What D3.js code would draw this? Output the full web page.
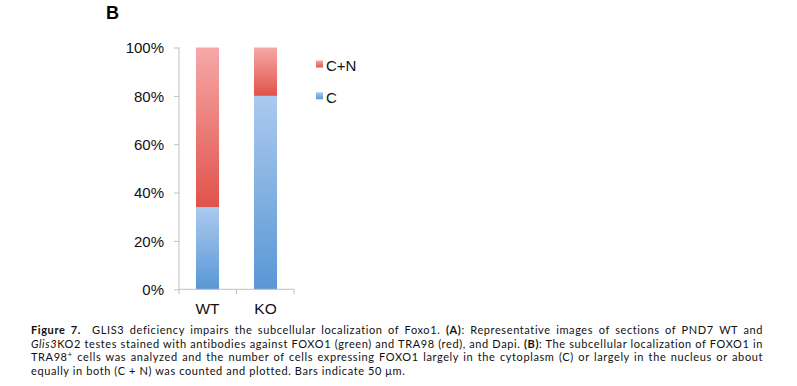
<!DOCTYPE html>
<html><head><meta charset="utf-8">
<script src="https://cdn.jsdelivr.net/npm/d3@7"></script>
<style>
body{margin:0;background:#fff;width:797px;height:386px;overflow:hidden;position:relative;}
svg{position:absolute;left:0;top:0;}
#cap{position:absolute;left:31px;top:323px;width:732px;font-family:Lato,"Open Sans",sans-serif;font-size:11px;letter-spacing:0.6px;line-height:13.5px;color:#111;}
#cap div{text-align:justify;text-align-last:justify;white-space:nowrap;height:13.5px;}
#cap div.last{text-align-last:left;}
</style></head><body>
<div id="cap"></div>
<script>
const categories = ["WT", "KO"];
const seriesNames = ["C", "C+N"];
const valuesC = [34, 80];
const valuesCN = [66, 20];
const yTicks = [0, 20, 40, 60, 80, 100];

const W = 797, H = 386;
const svg = d3.select("body").append("svg").attr("width", W).attr("height", H);
const defs = svg.append("defs");
function grad(id, top, bottom){
  const g = defs.append("linearGradient").attr("id", id).attr("x1",0).attr("y1",0).attr("x2",0).attr("y2",1);
  g.append("stop").attr("offset","0%").attr("stop-color",top);
  g.append("stop").attr("offset","100%").attr("stop-color",bottom);
}
grad("gC", "#abcaee", "#5a97d6");
grad("gCN", "#f6a8a8", "#e0534b");

const y = d3.scaleLinear().domain([0,100]).range([289.3, 47.5]);
const x = d3.scaleBand().domain(categories).range([179, 294]).paddingInner(0.603).paddingOuter(0.293);

svg.append("text").attr("x",106).attr("y",19).attr("font-family","Liberation Sans, Arial, sans-serif")
  .attr("font-weight","bold").attr("font-size",18).text("B");

const data = categories.map((c,i)=>({cat:c, C:valuesC[i], CN:valuesCN[i]}));
const stack = d3.stack().keys(["C","CN"])(data);
const fills = {C:"url(#gC)", CN:"url(#gCN)"};
svg.append("g").selectAll("g").data(stack).join("g").attr("fill", d=>fills[d.key])
  .selectAll("rect").data(d=>d).join("rect")
  .attr("x", d=>x(d.data.cat)).attr("width", x.bandwidth())
  .attr("y", d=>y(d[1])).attr("height", d=>y(d[0])-y(d[1]));

const axisColor = "#c0c0c0";
const yAxis = svg.append("g").attr("transform","translate(179,0)")
  .call(d3.axisLeft(y).tickValues(yTicks).tickFormat(d=>d+"%").tickSize(5).tickPadding(10));
yAxis.select(".domain").attr("stroke",axisColor).attr("d","M0,47.5V289.3");
yAxis.selectAll(".tick line").attr("stroke",axisColor);
yAxis.selectAll(".tick text").attr("font-family","Liberation Sans, Arial, sans-serif").attr("font-size",15).attr("fill","#111").attr("dy","0.36em");

const xAxis = svg.append("g").attr("transform","translate(0,289.3)")
  .call(d3.axisBottom(x).tickSize(0).tickPadding(14));
xAxis.select(".domain").attr("stroke",axisColor).attr("d","M179,0H294");
xAxis.selectAll(".tick text").attr("font-family","Liberation Sans, Arial, sans-serif").attr("font-size",15.5).attr("fill","#111");
const sepX = [179, (x("WT")+x.bandwidth()+x("KO"))/2, 294];
xAxis.selectAll("line.sep").data(sepX).join("line").attr("class","sep")
  .attr("x1",d=>d).attr("x2",d=>d).attr("y1",0).attr("y2",5).attr("stroke",axisColor);

const legend = [{name:"C+N", fill:"url(#gCN)", y:60.5},{name:"C", fill:"url(#gC)", y:92.3}];
const lg = svg.append("g");
lg.selectAll("rect").data(legend).join("rect").attr("x",316).attr("y",d=>d.y).attr("width",7).attr("height",7).attr("fill",d=>d.fill);
lg.selectAll("text").data(legend).join("text").attr("x",326).attr("y",d=>d.y+10.3)
  .attr("font-family","Liberation Sans, Arial, sans-serif").attr("font-size",15).attr("fill","#111").text(d=>d.name);

const lines = [
  '<b>Figure 7.</b>&nbsp; GLIS3 deficiency impairs the subcellular localization of Foxo1. <b>(A)</b>: Representative images of sections of PND7 WT and',
  '<i>Glis3</i>KO2 testes stained with antibodies against FOXO1 (green) and TRA98 (red), and Dapi. <b>(B)</b>: The subcellular localization of FOXO1 in',
  'TRA98<sup style="font-size:8px;line-height:0;vertical-align:4px">+</sup> cells was analyzed and the number of cells expressing FOXO1 largely in the cytoplasm (C) or largely in the nucleus or about',
  'equally in both (C + N) was counted and plotted. Bars indicate 50 μm.'
];
d3.select("#cap").selectAll("div").data(lines).join("div").attr("class",(d,i)=>i===3?"last":null).html(d=>d);
</script>
</body></html>
